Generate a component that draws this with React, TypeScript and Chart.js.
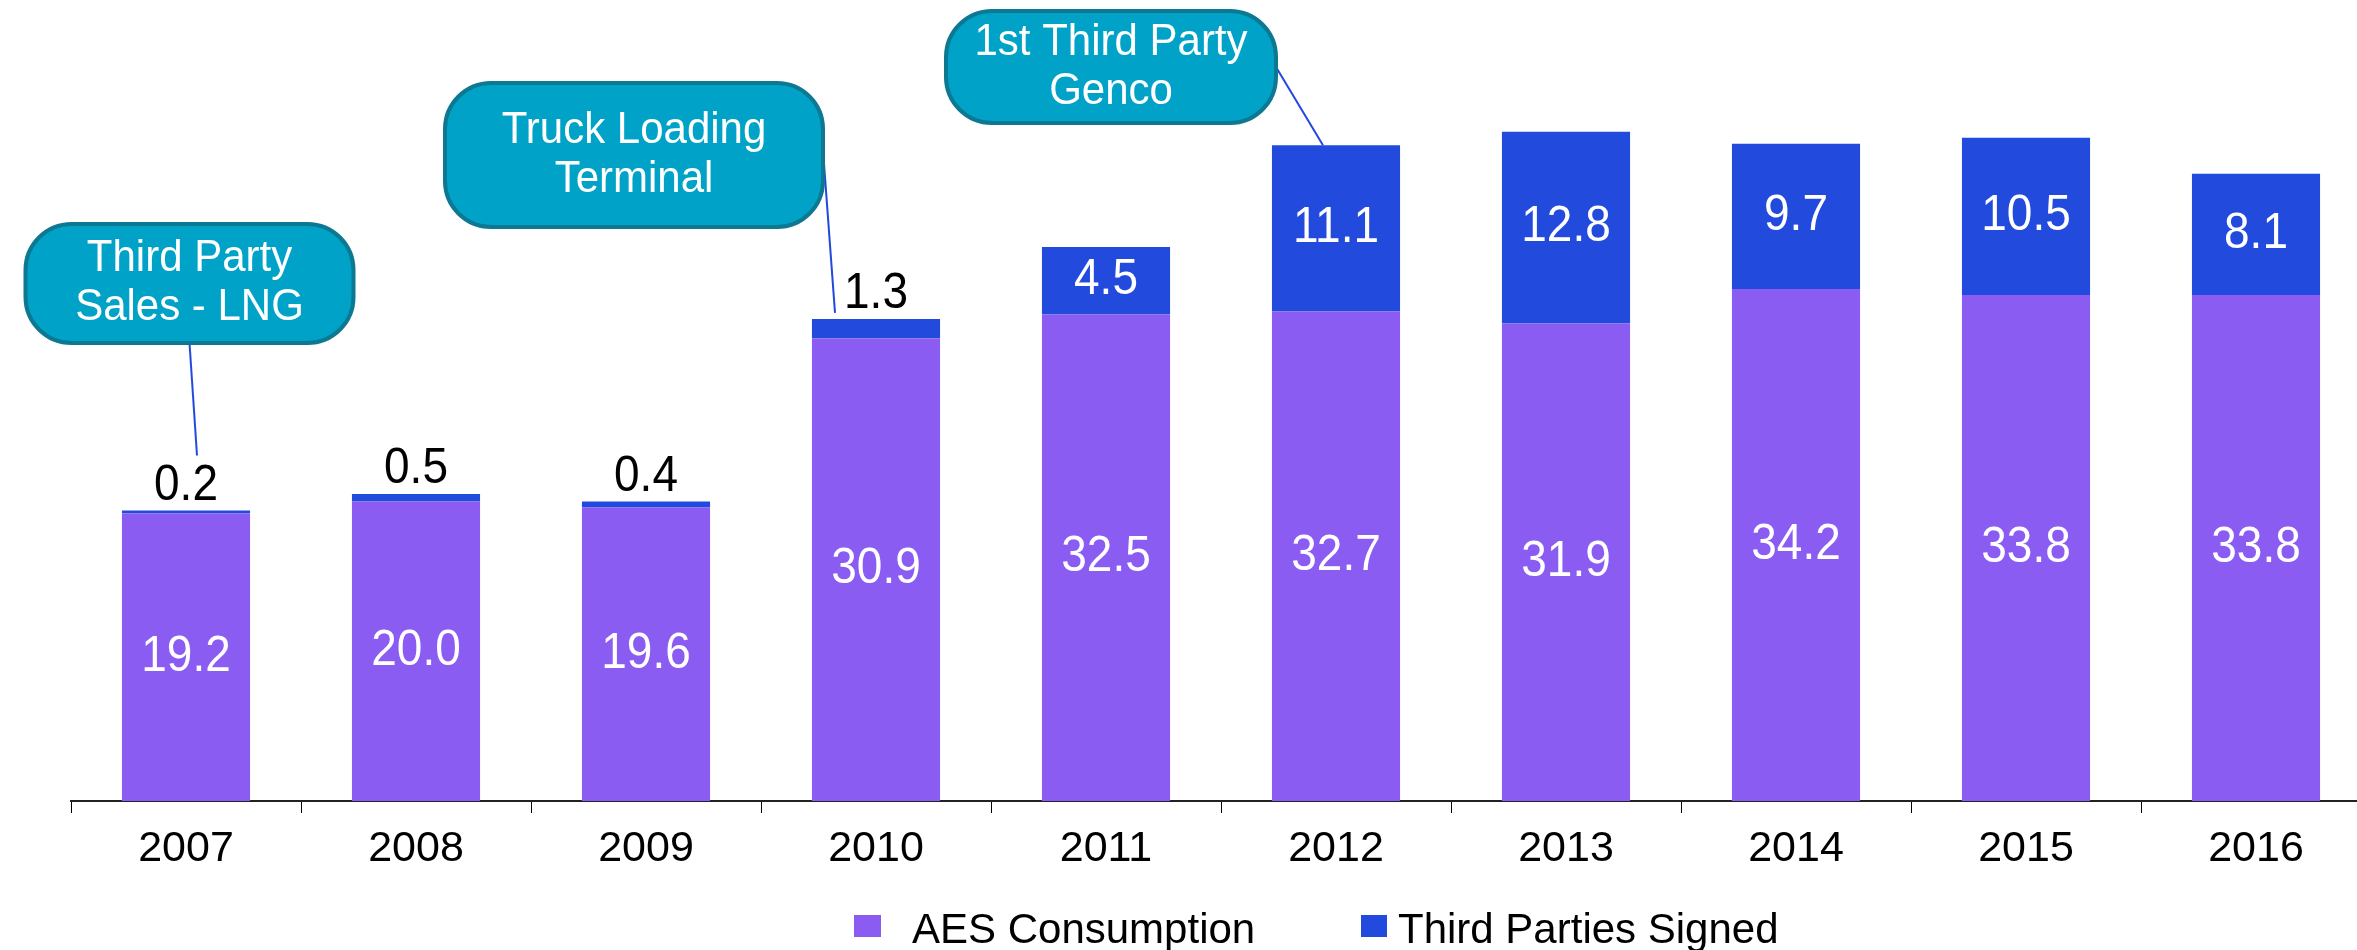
import { useEffect, useRef } from 'react';
import { Chart, registerables } from 'chart.js';

Chart.register(...registerables);

const years = ['2007', '2008', '2009', '2010', '2011', '2012', '2013', '2014', '2015', '2016'];
const aesConsumption = [19.2, 20.0, 19.6, 30.9, 32.5, 32.7, 31.9, 34.2, 33.8, 33.8];
const thirdPartiesSigned = [0.2, 0.5, 0.4, 1.3, 4.5, 11.1, 12.8, 9.7, 10.5, 8.1];
const seriesNames = ['AES Consumption', 'Third Parties Signed'];
const seriesColors = ['#8B5CF1', '#224ADD'];
const calloutTexts = [
  ['Third Party', 'Sales - LNG'],
  ['Truck Loading', 'Terminal'],
  ['1st Third Party', 'Genco'],
];
const calloutYears = ['2007', '2010', '2012'];

const FONT = '"Liberation Sans", Arial, Helvetica, sans-serif';
const W = 2371;
const H = 950;

// annotation layout (pixels): box relative to category centre, line anchors
const calloutLayout = [
  { dx: 3.5, top: 224, w: 328, h: 119, sx: 0.5, sy: 1, ex: 11, ey: -55 },
  { dx: -242, top: 83, w: 378, h: 144, sx: 1, sy: 0.465, ex: -41, ey: -6 },
  { dx: -225, top: 11, w: 330, h: 112, sx: 1, sy: 0.5, ex: -13, ey: 0 },
];

const legendLayout = [
  { box: [854, 915, 27, 22], textX: 912 },
  { box: [1361, 915, 26, 22], textX: 1398 },
];

function stretchedText(ctx: CanvasRenderingContext2D, text: string, x: number, y: number, sy: number) {
  ctx.save();
  ctx.translate(x, y);
  ctx.scale(1, sy);
  ctx.fillText(text, 0, 0);
  ctx.restore();
}

const overlayPlugin = {
  id: 'overlay',
  afterDatasetsDraw(chart: any) {
    const ctx = chart.ctx as CanvasRenderingContext2D;
    const m0 = chart.getDatasetMeta(0);
    const m1 = chart.getDatasetMeta(1);
    ctx.save();
    ctx.font = `46px ${FONT}`;
    ctx.textAlign = 'center';
    const SY = 1.08;
    m0.data.forEach((bar: any, i: number) => {
      const p = bar.getProps(['x', 'y', 'base'], true);
      ctx.fillStyle = '#ffffff';
      ctx.textBaseline = 'middle';
      stretchedText(ctx, aesConsumption[i].toFixed(1), p.x, (p.y + p.base) / 2, SY);
    });
    m1.data.forEach((bar: any, i: number) => {
      const p = bar.getProps(['x', 'y', 'base'], true);
      const v = thirdPartiesSigned[i];
      if (v < 2) {
        ctx.fillStyle = '#000000';
        ctx.textBaseline = 'alphabetic';
        stretchedText(ctx, v.toFixed(1), p.x, p.y - 11, SY);
      } else {
        ctx.fillStyle = '#ffffff';
        ctx.textBaseline = 'middle';
        stretchedText(ctx, v.toFixed(1), p.x, (p.y + p.base) / 2, SY);
      }
    });

    // callouts
    calloutTexts.forEach((lines, k) => {
      const idx = years.indexOf(calloutYears[k]);
      const L = calloutLayout[k];
      const bar = m1.data[idx].getProps(['x', 'y'], true);
      const cx = bar.x + L.dx;
      const left = cx - L.w / 2;
      const top = L.top;
      // connector
      ctx.strokeStyle = '#2248DD';
      ctx.lineWidth = 2;
      ctx.beginPath();
      ctx.moveTo(left + L.sx * L.w, top + L.sy * L.h);
      ctx.lineTo(bar.x + L.ex, bar.y + L.ey);
      ctx.stroke();
      // box
      ctx.beginPath();
      (ctx as any).roundRect(left, top, L.w, L.h, 46);
      ctx.fillStyle = '#00A3C7';
      ctx.fill();
      ctx.lineWidth = 4;
      ctx.strokeStyle = '#0C7892';
      ctx.stroke();
      ctx.fillStyle = '#ffffff';
      ctx.font = `42px ${FONT}`;
      ctx.textBaseline = 'middle';
      ctx.textAlign = 'center';
      const cy = top + L.h / 2;
      stretchedText(ctx, lines[0], cx, cy - 24.5, 1.04);
      stretchedText(ctx, lines[1], cx, cy + 24.5, 1.04);
    });

    // legend
    ctx.font = `42px ${FONT}`;
    ctx.textAlign = 'left';
    ctx.textBaseline = 'alphabetic';
    seriesNames.forEach((name, k) => {
      const lg = legendLayout[k];
      ctx.fillStyle = seriesColors[k];
      ctx.fillRect(lg.box[0], lg.box[1], lg.box[2], lg.box[3]);
      ctx.fillStyle = '#000000';
      ctx.fillText(name, lg.textX, 943);
    });
    ctx.restore();
  },
};

export default function App() {
  const ref = useRef<HTMLCanvasElement | null>(null);
  useEffect(() => {
    document.body.style.overflow = 'hidden';
    const chart = new Chart(ref.current as HTMLCanvasElement, {
      type: 'bar',
      data: {
        labels: years,
        datasets: [
          {
            label: seriesNames[0],
            data: aesConsumption,
            backgroundColor: seriesColors[0],
            barPercentage: 0.557,
            categoryPercentage: 1,
          },
          {
            label: seriesNames[1],
            data: thirdPartiesSigned,
            backgroundColor: seriesColors[1],
            barPercentage: 0.557,
            categoryPercentage: 1,
          },
        ],
      },
      options: {
        responsive: false,
        animation: false,
        devicePixelRatio: 1,
        layout: { padding: { left: 71, right: 0, top: 0, bottom: 0 } },
        plugins: {
          legend: { display: false },
          tooltip: { enabled: false },
        },
        scales: {
          x: {
            stacked: true,
            offset: true,
            grid: {
              display: true,
              drawOnChartArea: false,
              drawTicks: true,
              tickLength: 12,
              color: '#000000',
              lineWidth: 1,
              offset: true,
            },
            border: { display: true, color: '#222222', width: 2 },
            ticks: { color: '#000000', font: { family: FONT, size: 43 }, padding: 10 },
            afterFit: (s: any) => {
              s.height = 149;
            },
          },
          y: { stacked: true, display: false, min: 0, max: 53.5 },
        },
      },
      plugins: [overlayPlugin],
    });
    return () => chart.destroy();
  }, []);
  return (
    <div style={{ position: 'fixed', left: 0, top: 0, width: W, height: H, background: '#ffffff' }}>
      <canvas ref={ref} width={W} height={H} style={{ width: W, height: H, display: 'block' }} />
    </div>
  );
}
